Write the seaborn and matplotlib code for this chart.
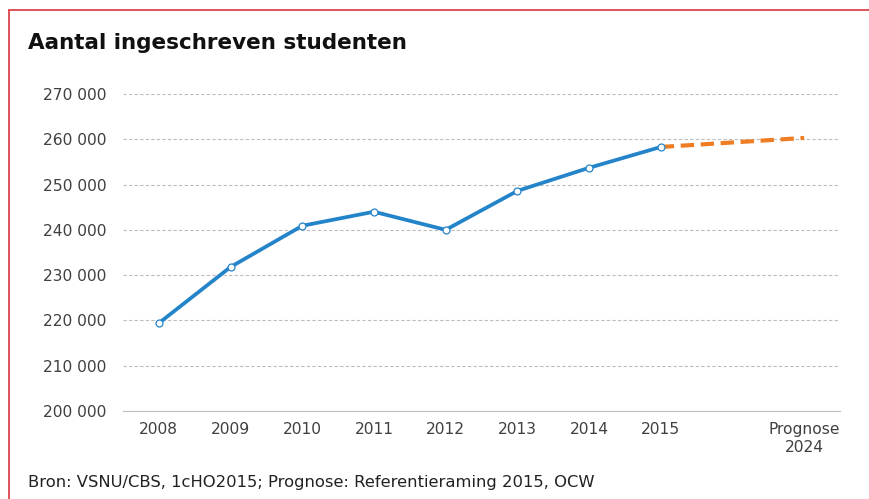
import matplotlib
matplotlib.use("Agg")
import matplotlib.pyplot as plt
from matplotlib.lines import Line2D
import seaborn as sns
import pandas as pd

# data
years = ["2008", "2009", "2010", "2011", "2012", "2013", "2014", "2015", "", "Prognose\n2024"]
students = [219400, 231800, 240900, 244000, 240000, 248600, 253700, 258300]
forecast_pos = [7, 9]
forecast = [258300, 260300]
yticks = [200000, 210000, 220000, 230000, 240000, 250000, 260000, 270000]

blue = "#2484c9"
orange = "#ee7d23"
txt = "#404040"

sns.set_style("white")
plt.rcParams['font.family'] = ['DejaVu Sans']
plt.rcParams['font.sans-serif'] = ['DejaVu Sans']

fig = plt.figure(figsize=(8.69, 4.99), dpi=100)
ax = fig.add_axes([123/869, 1-411/499, 717/869, 317/499])

df = pd.DataFrame({"pos": range(len(students)), "n": students})
df_fc = pd.DataFrame({"pos": forecast_pos, "n": forecast})

sns.lineplot(data=df_fc, x="pos", y="n", ax=ax, color=orange, linewidth=3.0,
             linestyle=(0, (3.2, 1.6)), zorder=3)
sns.lineplot(data=df, x="pos", y="n", ax=ax, color=blue, linewidth=2.7,
             marker="o", markersize=5, markerfacecolor="white",
             markeredgecolor=blue, markeredgewidth=0.9, zorder=4)

ax.set_xlim(-0.5, len(years) - 0.5)
ax.set_ylim(200000, 270000)
ax.set_yticks(yticks)
ax.set_yticklabels([f"{v:,}".replace(",", " ") for v in yticks], fontsize=11.2,
                   color=txt, family="DejaVu Sans")
ax.set_xticks(range(len(years)))
ax.set_xticklabels(years, fontsize=11.2, color=txt, family="DejaVu Sans")
ax.set_xticks([i - 0.5 for i in range(len(years) + 1)], minor=True)
ax.tick_params(axis="x", which="major", length=0, pad=8)
ax.tick_params(axis="x", which="minor", length=4, color="#bfbfbf", direction="out")
ax.tick_params(axis="y", length=0, pad=12)
ax.set_xlabel("")
ax.set_ylabel("")

ax.yaxis.grid(True, color="#bdbdbd", linestyle=(0, (3, 2)), linewidth=0.8)
ax.xaxis.grid(False)
for s in ["top", "right", "left"]:
    ax.spines[s].set_visible(False)
ax.spines["bottom"].set_color("#bfbfbf")
ax.spines["bottom"].set_linewidth(0.8)
ax.set_axisbelow(True)

fig.text(28/869, 1-43/499, "Aantal ingeschreven studenten", fontsize=15.5,
         fontweight="bold", color="#111111", va="center", ha="left",
         family="DejaVu Sans")
fig.text(28/869, 1-483/499, "Bron: VSNU/CBS, 1cHO2015; Prognose: Referentieraming 2015, OCW",
         fontsize=11.8, color="#222222", va="center", ha="left", family="DejaVu Sans")

# red frame
fig.add_artist(Line2D([9/869, 1], [1-10/499, 1-10/499], color="#d9363e", linewidth=1.2))
fig.add_artist(Line2D([9/869, 9/869], [0, 1-10/499], color="#d9363e", linewidth=1.2))

fig.savefig("out.png", dpi=100)
